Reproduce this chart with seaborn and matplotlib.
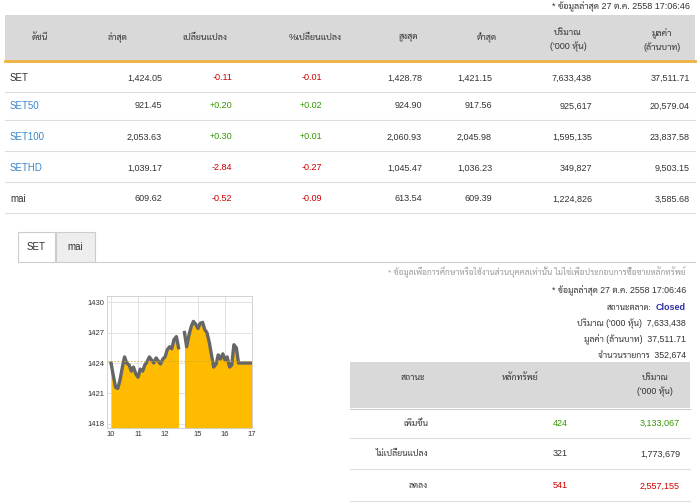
import matplotlib
matplotlib.use("Agg")
import matplotlib.pyplot as plt
from matplotlib.patches import Rectangle
import numpy as np
import pandas as pd
import seaborn as sns

plt.rcParams["font.family"] = ["Liberation Sans", "Sarabun", "Noto Sans Thai", "DejaVu Sans"]

W, H = 700, 504

# ---- index table data ----
headers = ["ดัชนี", "ล่าสุด", "เปลี่ยนแปลง", "%เปลี่ยนแปลง", "สูงสุด", "ต่ำสุด",
           "ปริมาณ\n('000 หุ้น)", "มูลค่า\n(ล้านบาท)"]
indices = ["SET", "SET50", "SET100", "SETHD", "mai"]
last = ["1,424.05", "921.45", "2,053.63", "1,039.17", "609.62"]
change = ["-0.11", "+0.20", "+0.30", "-2.84", "-0.52"]
pct_change = ["-0.01", "+0.02", "+0.01", "-0.27", "-0.09"]
high = ["1,428.78", "924.90", "2,060.93", "1,045.47", "613.54"]
low = ["1,421.15", "917.56", "2,045.98", "1,036.23", "609.39"]
volume = ["7,633,438", "925,617", "1,595,135", "349,827", "1,224,826"]
value = ["37,511.71", "20,579.04", "23,837.58", "9,503.15", "3,585.68"]

# ---- market breadth ----
breadth_status = ["เพิ่มขึ้น", "ไม่เปลี่ยนแปลง", "ลดลง"]
breadth_count = ["424", "321", "541"]
breadth_volume = ["3,133,067", "1,773,679", "2,557,155"]

# ---- intraday SET (time in hours, price) ----
am_time = [10.0, 10.08, 10.17, 10.25, 10.33, 10.42, 10.5, 10.58, 10.67, 10.75, 10.83,
           10.92, 11.0, 11.08, 11.17, 11.25, 11.33, 11.42, 11.5, 11.58, 11.67, 11.75,
           11.83, 11.92, 12.0, 12.08, 12.17, 12.25, 12.33, 12.42, 12.5]
am_price = [1424.0, 1422.8, 1421.6, 1421.5, 1422.3, 1423.6, 1424.6, 1424.0, 1423.8,
            1423.2, 1423.6, 1422.9, 1422.6, 1423.4, 1423.2, 1423.8, 1424.1, 1424.6,
            1424.3, 1424.0, 1424.5, 1424.2, 1423.9, 1424.4, 1424.6, 1425.3, 1425.6,
            1425.4, 1426.3, 1426.6, 1425.5]
pm_time = [14.5, 14.58, 14.67, 14.75, 14.83, 14.92, 15.0, 15.08, 15.17, 15.25, 15.33,
           15.42, 15.5, 15.58, 15.67, 15.75, 15.83, 15.92, 16.0, 16.08, 16.17, 16.25,
           16.33, 16.42, 16.5, 16.58, 16.67, 16.75, 16.83, 16.92, 17.0]
pm_price = [1427.0, 1425.6, 1426.8, 1427.6, 1428.1, 1427.8, 1427.4, 1427.9, 1428.0,
            1427.3, 1427.0, 1426.0, 1424.8, 1423.6, 1423.9, 1424.8, 1424.4, 1424.9,
            1424.3, 1424.6, 1423.6, 1423.8, 1425.8, 1425.5, 1424.0, 1424.0, 1424.0,
            1424.0, 1424.0, 1424.0, 1424.0]
prev_close = 1424.16
x_ticks = [10, 11, 12, 15, 16, 17]
y_ticks = [1418, 1421, 1424, 1427, 1430]

GAP = 1.78  # afternoon shift to squeeze lunch break


def fx(px):
    return px / W


def fy(py):
    return 1 - py / H


fig = plt.figure(figsize=(7, 5.04), dpi=100)
fig.patch.set_facecolor("white")


def rect(x0, y0, x1, y1, fc, ec="none", lw=0, z=0):
    fig.patches.append(Rectangle((fx(x0), fy(y1)), fx(x1 - x0), (y1 - y0) / H,
                                 transform=fig.transFigure, facecolor=fc,
                                 edgecolor=ec, linewidth=lw, zorder=z))


def hline(y, x0, x1, c="#dddddd", lw=0.8):
    fig.add_artist(plt.Line2D([fx(x0), fx(x1)], [fy(y), fy(y)], color=c, lw=lw,
                              transform=fig.transFigure))


def txt(x, y, s, ha="left", c="#333333", fs=6.5, **kw):
    fig.text(fx(x), fy(y), s, ha=ha, va="center", color=c, fontsize=fs, **kw)


def sign_color(s):
    return "#cc0000" if s.startswith("-") else "#339900"


txt(690, 7, "* ข้อมูลล่าสุด 27 ต.ค. 2558 17:06:46", ha="right", fs=6.5)

# top table
rect(5, 15, 695, 60, "#d9d9d9")
hline(61, 5, 695, c="#f0b040", lw=2)
head_x = [40, 118, 205, 315, 408, 487, 568, 662]
for hx, h in zip(head_x, headers):
    txt(hx, 38 if "\n" not in h else 40, h, ha="center", fs=6.5, linespacing=1.5)

row_y = [78, 106, 137, 168, 199]
col_r = [162, 232, 322, 422, 492, 592, 690]
for i, name in enumerate(indices):
    y = row_y[i]
    txt(10, y, name, c="#333333" if name in ("SET", "mai") else "#3a87c8", fs=7)
    vals = [last[i], change[i], pct_change[i], high[i], low[i], volume[i], value[i]]
    for j, (xr, v) in enumerate(zip(col_r, vals)):
        c = sign_color(v) if j in (1, 2) else "#333333"
        txt(xr, y, v, ha="right", c=c, fs=6.5)
    hline(y + 14, 5, 695)

# tabs
rect(18, 232, 55, 262, "white", ec="#cccccc", lw=0.8, z=2)
rect(56, 232, 95, 262, "#eeeeee", ec="#cccccc", lw=0.8, z=2)
txt(36, 247, "SET", ha="center", fs=7)
txt(75, 247, "mai", ha="center", fs=7)
hline(262, 95, 695, c="#cccccc")

# info text
txt(686, 272, "* ข้อมูลเพื่อการศึกษาหรือใช้งานส่วนบุคคลเท่านั้น ไม่ใช่เพื่อประกอบการซื้อขายหลักทรัพย์",
    ha="right", c="#999999", fs=6)
txt(686, 291, "* ข้อมูลล่าสุด 27 ต.ค. 2558 17:06:46", ha="right", fs=6.3)
txt(686, 308, "Closed", ha="right", c="#3030a0", fs=6.5, weight="bold")
txt(652, 308, "สถานะตลาด:", ha="right", fs=6)
txt(686, 324, "ปริมาณ ('000 หุ้น)  7,633,438", ha="right", fs=6.3)
txt(686, 340, "มูลค่า (ล้านบาท)  37,511.71", ha="right", fs=6.3)
txt(686, 355, "จำนวนรายการ  352,674", ha="right", fs=6.3)

# breadth table
rect(350, 362, 690, 408, "#d9d9d9")
txt(413, 378, "สถานะ", ha="center", fs=6.3)
txt(520, 378, "หลักทรัพย์", ha="center", fs=6.3)
txt(655, 385, "ปริมาณ\n('000 หุ้น)", ha="center", fs=6.3, linespacing=1.5)
hline(409, 350, 690, c="#cccccc")
b_y = [423, 454, 486]
for i, st in enumerate(breadth_status):
    c = ["#339900", "#333333", "#cc0000"][i]
    txt(428, b_y[i], st, ha="right", fs=6.3)
    txt(568, b_y[i], breadth_count[i], ha="right", c=c, fs=6.5)
    txt(680, b_y[i], breadth_volume[i], ha="right", c=c, fs=6.5)
    hline(b_y[i] + 15, 350, 690)

# intraday chart
ax = fig.add_axes([fx(107), fy(428), fx(252 - 107), (428 - 296) / H])
df = pd.concat([
    pd.DataFrame({"x": am_time, "price": am_price, "session": "am"}),
    pd.DataFrame({"x": np.array(pm_time) - GAP, "price": pm_price, "session": "pm"}),
])
ymin, ymax = 1417.6, 1430.6
for _, sub in df.groupby("session"):
    ax.fill_between(sub["x"], ymin, sub["price"], color="#ffbb00", lw=0)
    sns.lineplot(data=sub, x="x", y="price", ax=ax, color="#666666", lw=2.4)
ax.axhline(prev_close, color="#ccaa33", lw=0.6, ls=(0, (2, 2)))
ax.set_xlim(10 - 0.15, 17 - GAP)
ax.set_ylim(ymin, ymax)
ax.set_xticks([t if t < 13 else t - GAP for t in x_ticks])
ax.set_xticklabels([str(t) for t in x_ticks])
ax.set_yticks(y_ticks)
ax.set_xlabel("")
ax.set_ylabel("")
ax.grid(True, color="#dddddd", lw=0.6)
ax.set_axisbelow(True)
ax.tick_params(labelsize=5.5, length=0, pad=2, colors="#333333")
for s in ax.spines.values():
    s.set_color("#cccccc")
    s.set_linewidth(0.6)

fig.savefig("out.png", dpi=100)
